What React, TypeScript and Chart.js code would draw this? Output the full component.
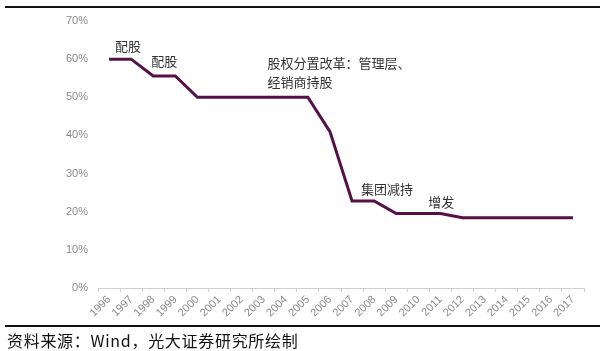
import React, { useEffect, useRef } from "react";
import { Chart, registerables } from "chart.js";

Chart.register(...registerables);

const years = [
  "1996", "1997", "1998", "1999", "2000", "2001", "2002", "2003", "2004", "2005", "2006",
  "2007", "2008", "2009", "2010", "2011", "2012", "2013", "2014", "2015", "2016", "2017",
];
const shareRatio = [
  60, 60, 55.6, 55.6, 50, 50, 50, 50, 50, 50, 41, 22.8, 22.8, 19.5, 19.5, 19.5, 18.4, 18.4,
  18.4, 18.4, 18.4, 18.4,
];
const yTicks = [0, 10, 20, 30, 40, 50, 60, 70];

// annotation text anchored in data coordinates (fractional category index, value %)
const noteTexts = ["配股", "配股", "股权分置改革：管理层、", "经销商持股", "集团减持", "增发"];
const noteX = [0.27, 1.91, 7.17, 7.17, 11.4, 14.45];
const noteY = [63.3, 59.6, 59.1, 54.1, 26.0, 22.6];

const sourceText = "资料来源：Wind，光大证券研究所绘制";

const notesPlugin = {
  id: "notes",
  afterDatasetsDraw(chart: any) {
    const { ctx, scales } = chart;
    ctx.save();
    ctx.fillStyle = "#333333";
    ctx.font = '13px "Noto Sans CJK SC", sans-serif';
    ctx.textAlign = "left";
    ctx.textBaseline = "middle";
    noteTexts.forEach((t, i) => {
      const x = scales.x.getPixelForValue(noteX[i]);
      const y = scales.y.getPixelForValue(noteY[i]);
      ctx.fillText(t, x, y);
    });
    ctx.restore();
  },
};

export default function App() {
  const ref = useRef<HTMLCanvasElement | null>(null);
  useEffect(() => {
    if (!ref.current) return;
    const chart = new Chart(ref.current, {
      type: "line",
      data: {
        labels: years,
        datasets: [
          {
            data: shareRatio,
            borderColor: "#561048",
            borderWidth: 3,
            pointRadius: 0,
            tension: 0,
            fill: false,
          },
        ],
      },
      options: {
        animation: false,
        responsive: false,
        maintainAspectRatio: false,
        layout: { padding: { top: 21, right: 16, bottom: 0, left: 0 } },
        plugins: { legend: { display: false }, tooltip: { enabled: false } },
        scales: {
          x: {
            offset: true,
            grid: {
              display: true,
              drawOnChartArea: false,
              drawTicks: true,
              tickLength: 4,
              color: "#d0d0d0",
              offset: true,
            },
            border: { display: true, color: "#d0d0d0" },
            ticks: {
              minRotation: 45,
              maxRotation: 45,
              autoSkip: false,
              color: "#8a8a8a",
              font: { family: "Liberation Sans, Arial, sans-serif", size: 11 },
              padding: 1,
            },
            afterFit(scale: any) {
              scale.height = 63;
            },
          },
          y: {
            min: 0,
            max: 70,
            afterBuildTicks(scale: any) {
              scale.ticks = yTicks.map((v) => ({ value: v }));
            },
            grid: { display: false, drawTicks: false },
            border: { display: false },
            ticks: {
              color: "#8a8a8a",
              font: { family: "Liberation Sans, Arial, sans-serif", size: 11 },
              padding: 10,
              callback: (v: any) => v + "%",
            },
            afterFit(scale: any) {
              scale.width = 98;
            },
          },
        },
      },
      plugins: [notesPlugin],
    });
    return () => chart.destroy();
  }, []);

  return (
    <div style={{ position: "absolute", left: 0, top: 0, width: 600, height: 351, background: "#fff" }}>
      <canvas ref={ref} width={600} height={351} style={{ position: "absolute", left: 0, top: 0 }} />
      <div style={{ position: "absolute", left: 5, top: 6, width: 595, height: 2, background: "#111" }} />
      <div style={{ position: "absolute", left: 5, top: 325, width: 595, height: 2, background: "#111" }} />
      <div
        style={{
          position: "absolute",
          left: 7,
          top: 329,
          fontSize: 16,
          letterSpacing: "0.7px",
          lineHeight: "22px",
          color: "#111",
          fontFamily: '"Noto Sans CJK SC", sans-serif',
          whiteSpace: "nowrap",
        }}
      >
        {sourceText}
      </div>
    </div>
  );
}
